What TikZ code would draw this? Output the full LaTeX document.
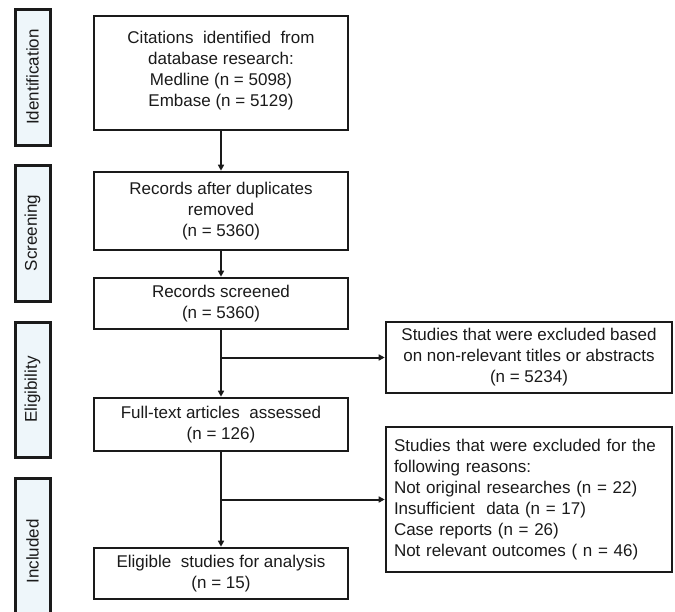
\documentclass[tikz,border=0pt]{standalone}
\usepackage{fontspec}
\setmainfont{Liberation Sans}
\usepackage{xcolor}
\usetikzlibrary{arrows.meta,calc}

\definecolor{stagefill}{HTML}{EEF6FA}
\definecolor{ink}{HTML}{1A1A1A}

\begin{document}
\begin{tikzpicture}[x=1pt, y=-1pt,
    stage/.style={shape=rectangle, draw=ink, line width=3pt, fill=stagefill,
      rotate=90, inner sep=0pt, font=\fontsize{17}{21}\selectfont, text=ink},
    box/.style={shape=rectangle, draw=ink, line width=2.6pt, align=center, inner sep=0pt,
      font=\fontsize{17}{21}\selectfont, text=ink},
    flow/.style={draw=ink, line width=2pt, -{Triangle[length=6pt,width=6pt]}},
    branch/.style={draw=ink, line width=2pt}]
    \useasboundingbox (0,0) rectangle (675,611);

    % stage labels on the left
    \node[stage, minimum width=136, minimum height=35] (ident) at (32.5,77) {Identification};
    \node[stage, minimum width=136, minimum height=35] (screen) at (32.5,233) {Screening};
    \node[stage, minimum width=135, minimum height=35] (elig) at (32.5,389.5) {Eligibility};
    \node[stage, minimum width=147, minimum height=35] (incl) at (32.5,551.5) {Included};

    % main column
    \node[box, minimum width=254, minimum height=114] (cit) at (221,73)
      {Citations\ \ identified\ \ from\\database research:\\Medline (n = 5098)\\Embase (n = 5129)\\[-12pt]\mbox{}};
    \node[box, minimum width=254, minimum height=78] (dup) at (221,211)
      {Records after duplicates\\removed\\(n = 5360)};
    \node[box, minimum width=254, minimum height=51] (scr) at (221,303.5)
      {Records screened\\(n = 5360)};
    \node[box, minimum width=254, minimum height=53] (full) at (221,424.5)
      {Full-text articles\ \ assessed\\(n = 126)};
    \node[box, minimum width=254, minimum height=51] (elg) at (221,573.5)
      {Eligible\ \ studies for analysis\\(n = 15)};

    % exclusions
    \node[box, minimum width=286, minimum height=71] (exa) at (529,357.5)
      {Studies that were excluded based\\on non-relevant titles or abstracts\\(n = 5234)};
    \node[box, minimum width=286, minimum height=145, align=left, text width=270] (exb) at (529,499.5)
      {Studies that were excluded for the\\following reasons:\\Not original researches (n = 22)\\Insufficient\ \ data (n = 17)\\Case reports (n = 26)\\Not relevant outcomes ( n = 46)};

    \draw[flow] (cit) -- (dup);
    \draw[flow] (dup) -- (scr);
    \draw[flow] (scr) -- (full);
    \draw[flow] (full) -- (elg);
    \coordinate (ja) at (scr.south |- exa.west);
    \coordinate (jb) at (full.south |- exb.west);
    \draw[flow] (ja) -- (exa.west);
    \draw[flow] (jb) -- (exb.west);
  \end{tikzpicture}
\end{document}
